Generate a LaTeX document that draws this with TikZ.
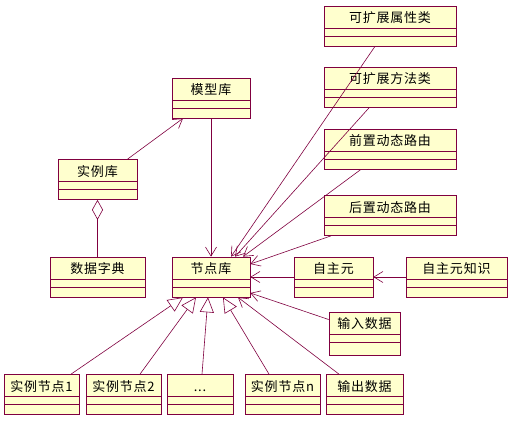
\documentclass[tikz,border=0pt]{standalone}
\usepackage{fontspec}
\setmainfont{Noto Sans CJK SC}[LetterSpace=6]
\usepackage{tikz}
\usetikzlibrary{arrows.meta,positioning}
\definecolor{umlred}{RGB}{128,0,64}
\definecolor{umlyellow}{RGB}{255,255,206}
\tikzset{
  cls/.style={rectangle,draw=umlred,fill=umlyellow,line width=0.7pt,minimum width=#1,
    inner xsep=0pt,inner ysep=0pt,text height=16.5pt,text depth=23.5pt,
    font=\fontsize{13pt}{13pt}\selectfont,
    path picture={\draw[umlred,line width=0.7pt]
      ([yshift=-22pt]path picture bounding box.north west) -- ([yshift=-22pt]path picture bounding box.north east)
      ([yshift=-30pt]path picture bounding box.north west) -- ([yshift=-30pt]path picture bounding box.north east);}},
  cls/.default=78pt,
  arr/.style={-{Straight Barb[length=9pt,width=11pt]},line width=0.6pt,color=umlred},
  gen/.style={-{Triangle[open,length=15pt,width=14pt,fill=white]},line width=0.6pt,color=umlred},
  agg/.style={-{Diamond[open,length=20pt,width=11pt,fill=white]},line width=0.6pt,color=umlred}
}
\begin{document}
\begin{tikzpicture}[x=1pt,y=-1pt]
    \useasboundingbox[fill=white] (0,0) rectangle (513,425);
    % Extension classes
    \node[cls=132pt] (attr) at (390,26) {可扩展属性类};
    \node[cls=132pt] (meth) at (390,87.5) {可扩展方法类};
    \node[cls=132pt] (pre) at (390,149) {前置动态路由};
    \node[cls=132pt] (post) at (390,215.5) {后置动态路由};
    
    % Model and instance libraries
    \node[cls=78pt] (model) at (211,98) {模型库};
    \node[cls=79pt] (inst) at (97.5,179.5) {实例库};
    \node[cls=95pt] (dict) at (97.5,277) {数据字典};
    
    \draw[arr] ([xshift=30pt]inst.north) -- ([xshift=-28pt]model.south);
    \draw[agg] (dict.north) -- (inst.south);
    
    % Node library
    \node[cls=78pt] (lib) at (211,277) {节点库};
    \node[cls=79pt] (auto) at (333.5,277) {自主元};
    \node[cls=101pt] (know) at (456.5,277) {自主元知识};
    \node[cls=71pt,text depth=26.5pt] (input) at (364.5,333.5) {输入数据};
    
    \draw[arr] (model) -- (lib);
    \draw[arr] ([xshift=-15pt]attr.south) -- ([xshift=20pt]lib.north);
    \draw[arr] ([xshift=-21pt]meth.south) -- ([xshift=24pt]lib.north);
    \draw[arr] ([xshift=-29pt]pre.south) -- ([xshift=32pt]lib.north);
    \draw[arr] ([xshift=-59pt]post.south) -- ([yshift=13pt]lib.east);
    \draw[arr] (auto) -- (lib);
    \draw[arr] (know) -- (auto);
    \draw[arr] ([yshift=14pt]input.west) -- ([yshift=-16pt]lib.east);
    
    % Instance nodes
    \node[cls=75pt] (n1) at (41.5,394.5) {实例节点1};
    \node[cls=75pt] (n2) at (123.5,394.5) {实例节点2};
    \node[cls=66pt] (dots) at (200,394.5) {...};
    \node[cls=75pt] (nn) at (282.5,394.5) {实例节点n};
    \node[cls=77pt] (out) at (364.5,394.5) {输出数据};
    
    \draw[gen] ([xshift=29.5pt]n1.north) -- ([xshift=-28pt]lib.south);
    \draw[gen] ([xshift=16.5pt]n2.north) -- ([xshift=-15pt]lib.south);
    \draw[gen] ([xshift=2pt]dots.north) -- ([xshift=-3pt]lib.south);
    \draw[gen] ([xshift=-13.5pt]nn.north) -- ([xshift=12pt]lib.south);
    \draw[arr] ([xshift=-25.5pt]out.north) -- ([xshift=27pt]lib.south);
    
  \end{tikzpicture}
\end{document}
